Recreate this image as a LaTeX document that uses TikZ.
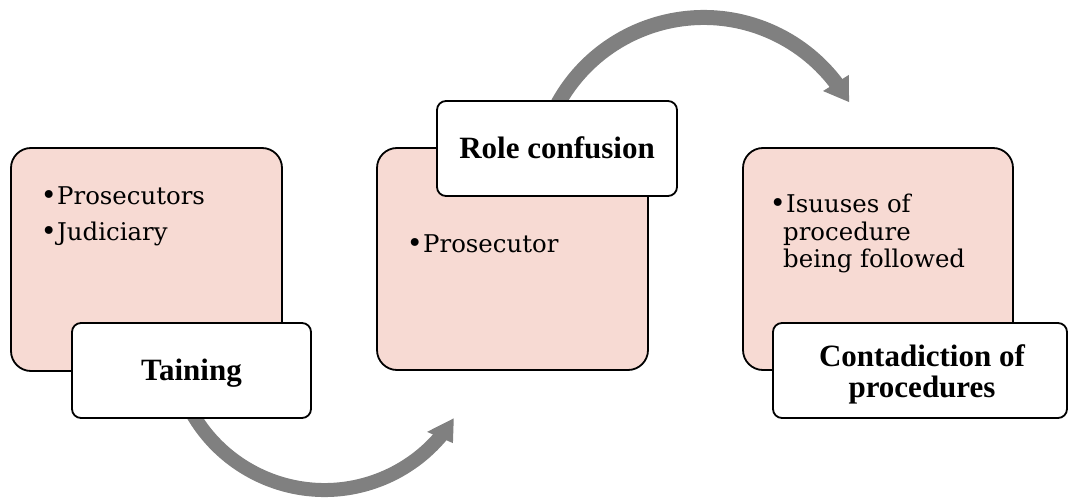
\documentclass[tikz,border=0pt]{standalone}
\usepackage{fontspec}
\setmainfont{DejaVu Serif}
\newfontfamily\headfont{Liberation Serif}
\usetikzlibrary{calc}
\definecolor{boxpink}{HTML}{F7DAD3}
\definecolor{arrowgray}{HTML}{808080}
\begin{document}
\begin{tikzpicture}[x=1pt,y=-1pt,
  itembox/.style={draw=black, line width=1.8pt, fill=boxpink, rounded corners=20pt, inner sep=0pt},
  titlebox/.style={draw=black, line width=1.8pt, fill=white, rounded corners=9pt, inner sep=0pt},
  itemtext/.style={inner sep=0pt, anchor=base west, font=\fontsize{24.4}{28}\selectfont},
  bulletmark/.style={inner sep=0pt, anchor=base east, font=\fontsize{27}{30}\selectfont},
  titletext/.style={inner sep=0pt, anchor=base, font=\headfont\bfseries\fontsize{31}{34}\selectfont},
  band/.style={draw=arrowgray, line width=14pt},
  head/.style={fill=arrowgray}]
\useasboundingbox (0,0) rectangle (1068,500);

% curved arrows (drawn first, they pass under the title boxes)
\coordinate (c1) at (324.5,337.6);
\coordinate (c2) at (703.7,183.9);
\draw[band] ($(c1)+(158:152.4)$) arc[start angle=158, end angle=39.5, radius=152.4];
\fill[head] ($(c1)+(42.6:139.3)$) -- ($(c1)+(32:152.4)$) -- ($(c1)+(39.4:166.2)$) -- cycle;
\draw[band, line width=15pt] ($(c2)+(-155:166.4)$) arc[start angle=-155, end angle=-36.5, radius=166.4];
\fill[head] ($(c2)+(-37.9:151.2)$) -- ($(c2)+(-29.4:166.8)$) -- ($(c2)+(-36.9:181.6)$) -- cycle;

% content boxes
\node[itembox, minimum width=271pt, minimum height=223pt] (b1) at (146.5,259.5) {};
\node[itembox, minimum width=271pt, minimum height=222pt] (b2) at (512.5,259) {};
\node[itembox, minimum width=270pt, minimum height=222pt] (b3) at (878,259) {};

% title boxes
\node[titlebox, minimum width=239pt, minimum height=95pt] (t1) at (191.5,370.5) {};
\node[titlebox, minimum width=240pt, minimum height=95pt] (t2) at (557,148.5) {};
\node[titlebox, minimum width=294pt, minimum height=95pt] (t3) at (920,370.5) {};

% bullet items
\node[itemtext] (i1) at (57,204) {Prosecutors};
\node[bulletmark] (d1) at (i1.base west) {•};
\node[itemtext] (i2) at (57,240) {Judiciary};
\node[bulletmark] (d2) at (i2.base west) {•};
\node[itemtext] (i3) at (423,252) {Prosecutor};
\node[bulletmark] (d3) at (i3.base west) {•};
\node[itemtext] (i4) at (786,212) {Isuuses of};
\node[bulletmark] (d4) at (i4.base west) {•};
\node[itemtext] (i5) at (783,240) {procedure};
\node[itemtext] (i6) at (783,267) {being followed};

% titles
\node[titletext] (l1) at (191.5,380) {Taining};
\node[titletext] (l2) at (557,158) {Role confusion};
\node[titletext] (l3) at (922,366) {Contadiction of};
\node[titletext] (l4) at (922,397) {procedures};
\end{tikzpicture}
\end{document}
